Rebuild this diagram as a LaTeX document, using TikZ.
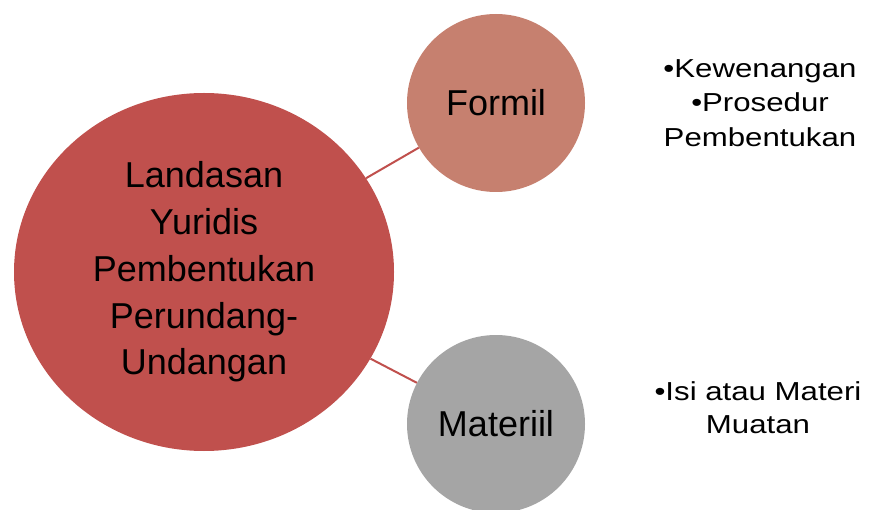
\documentclass[tikz,border=0pt]{standalone}
\usepackage{fontspec}
\setmainfont{Liberation Sans}
\newfontfamily\widefont[FakeStretch=1.2]{Liberation Sans}
\usetikzlibrary{shapes.geometric}
\definecolor{mainred}{HTML}{C0504D}
\definecolor{lightred}{HTML}{C6806F}
\definecolor{midgray}{HTML}{A5A5A5}
\newcommand{\rsmall}[0] {178pt}

\begin{document}
\begin{tikzpicture}[x=1pt,y=-1pt]
        \useasboundingbox (0,0) rectangle (885,510);
        \node[shape=ellipse,fill=mainred,minimum width=380pt,minimum height=358pt,inner sep=0pt,align=center,font=\fontsize{36}{46.7}\selectfont] (main) at (204,272) {Landasan\\Yuridis\\Pembentukan\\Perundang-\\Undangan};
        \node[shape=circle,fill=lightred,minimum size=\rsmall,inner sep=0pt,font=\fontsize{36}{43}\selectfont] (formil) at (496,103) {Formil};
        \node[shape=circle,fill=midgray,minimum size=\rsmall,inner sep=0pt,font=\fontsize{36}{43}\selectfont] (materiil) at (496,424) {Materiil};
        %labels
        \node[anchor=north,align=center,inner sep=0pt,font=\widefont\fontsize{26}{34.5}\selectfont] (k) at (760,59) {•Kewenangan\\•Prosedur\\Pembentukan};
        \node[anchor=north,align=center,inner sep=0pt,font=\widefont\fontsize{26}{33.3}\selectfont] (l) at (758,381) {•Isi atau Materi\\Muatan};
        %edges
        \path[-, draw=mainred, line width=2pt] (main) edge (formil);
        \path[-, draw=mainred, line width=2pt] (main) edge (materiil);
\end{tikzpicture}
\end{document}
